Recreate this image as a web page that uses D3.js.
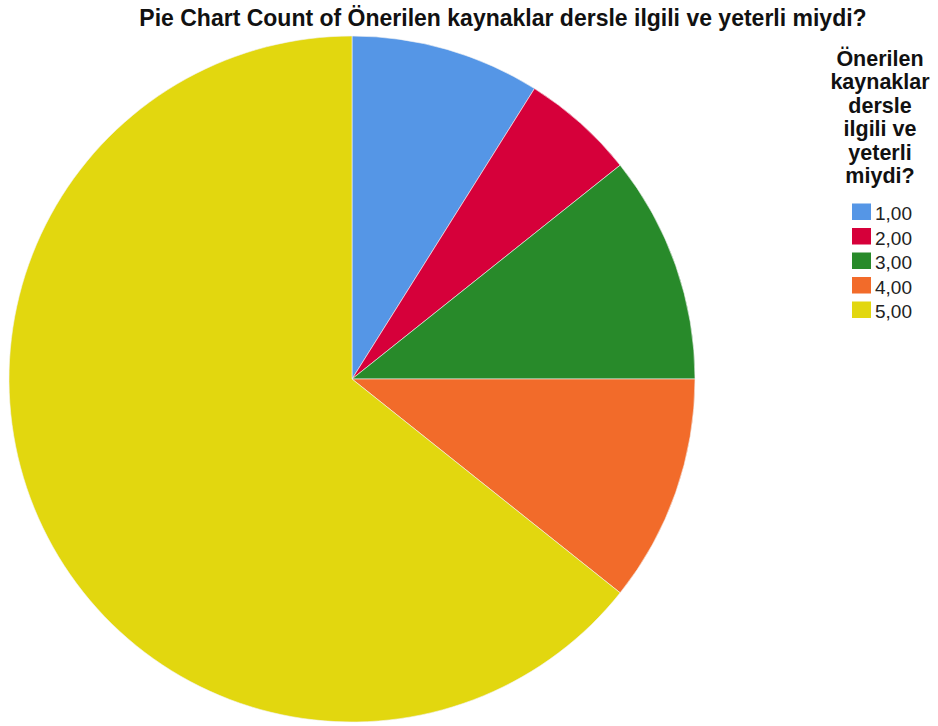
<!DOCTYPE html>
<html>
<head>
<meta charset="utf-8">
<script src="https://cdn.jsdelivr.net/npm/d3@7"></script>
<style>
  body { margin: 0; background: #fff; }
  text { font-family: "Liberation Sans", Arial, sans-serif; }
</style>
</head>
<body>
<div id="chart"></div>
<script>
// Data
const categories = ['1,00', '2,00', '3,00', '4,00', '5,00'];
const counts = [5, 3, 6, 6, 36];
const colors = ['#5596e6', '#d6003a', '#288a2a', '#f26b2a', '#e2d70f'];
const titleText = 'Pie Chart Count of Önerilen kaynaklar dersle ilgili ve yeterli miydi?';
const legendTitle = ['Önerilen', 'kaynaklar', 'dersle', 'ilgili ve', 'yeterli', 'miydi?'];

const width = 938, height = 726;
const cx = 352, cy = 379, radius = 343;

const svg = d3.select('#chart')
    .append('svg')
    .attr('width', width)
    .attr('height', height);

svg.append('text')
    .attr('x', 503)
    .attr('y', 26)
    .attr('text-anchor', 'middle')
    .attr('font-size', 23)
    .attr('font-weight', 'bold')
    .attr('fill', '#111')
    .text(titleText);

const colorScale = d3.scaleOrdinal().domain(categories).range(colors);

const pie = d3.pie().sort(null).value(d => d.count);
const arc = d3.arc().innerRadius(0).outerRadius(radius);

const data = categories.map((c, i) => ({ cat: c, count: counts[i] }));

const g = svg.append('g').attr('transform', `translate(${cx},${cy})`);

g.selectAll('path')
    .data(pie(data))
    .join('path')
    .attr('d', arc)
    .attr('fill', d => colorScale(d.data.cat))
    .attr('stroke', '#f4f4f4')
    .attr('stroke-width', 0.6);

// Legend
const legend = svg.append('g');

legend.selectAll('text.ltitle')
    .data(legendTitle)
    .join('text')
    .attr('class', 'ltitle')
    .attr('x', 880)
    .attr('y', (d, i) => 66 + i * 23.4)
    .attr('text-anchor', 'middle')
    .attr('font-size', 21.5)
    .attr('font-weight', 'bold')
    .attr('fill', '#111')
    .text(d => d);

const items = legend.selectAll('g.item')
    .data(categories)
    .join('g')
    .attr('class', 'item')
    .attr('transform', (d, i) => `translate(852,${203.5 + i * 24.5})`);

items.append('rect')
    .attr('width', 19)
    .attr('height', 16.5)
    .attr('fill', d => colorScale(d));

items.append('text')
    .attr('x', 23)
    .attr('y', 16.5)
    .attr('font-size', 19)
    .attr('fill', '#222')
    .text(d => d);
</script>
</body>
</html>
